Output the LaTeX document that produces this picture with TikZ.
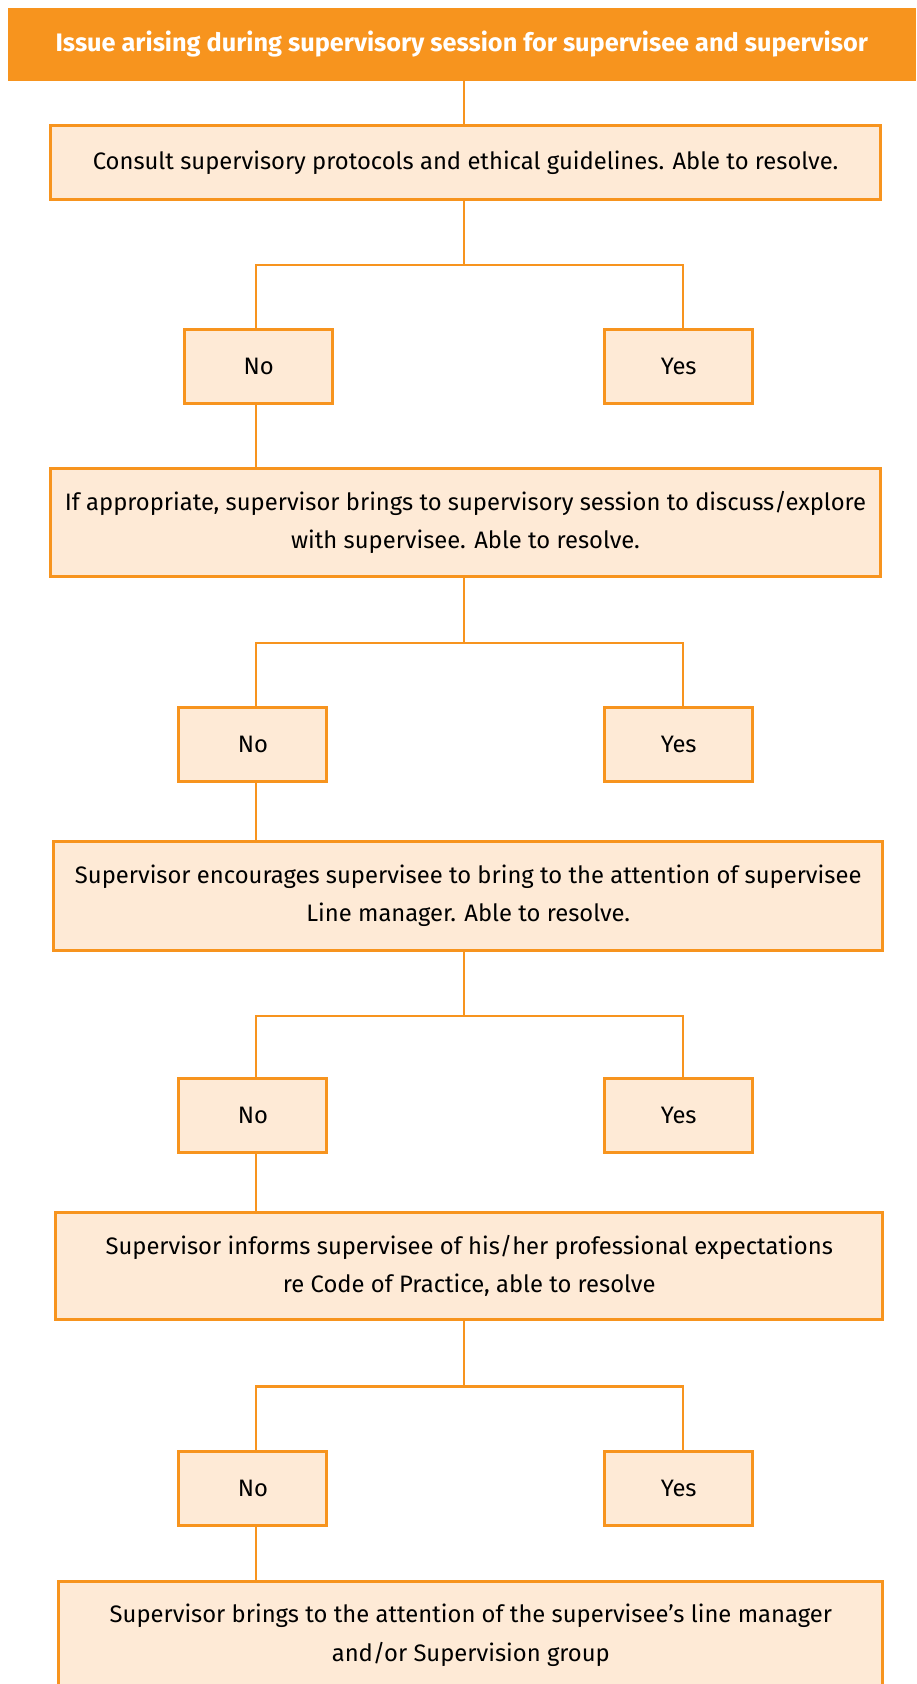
\documentclass[tikz,border=0pt]{standalone}
\usepackage{fontspec}
\setmainfont{Fira Sans}
\usetikzlibrary{positioning}

\definecolor{flowOrange}{HTML}{F7941E}
\definecolor{flowPeach}{HTML}{FEEAD6}

\tikzset{
  stepbox/.style={draw=flowOrange, line width=3pt, fill=flowPeach, align=center,
    inner sep=0pt, font=\fontsize{23.8}{38.5}\selectfont},
  answer/.style={stepbox, minimum width=148pt, minimum height=74pt},
  link/.style={draw=flowOrange, line width=2.2pt}
}

\begin{document}
\begin{tikzpicture}[x=1pt, y=-1pt]
    \useasboundingbox (0,0) rectangle (916,1684);

    % heading bar
    \node[fill=flowOrange, text=white, inner sep=0pt, minimum width=908.5pt, minimum height=73pt,
      font=\fontsize{25.3}{30}\selectfont\bfseries] (hdr) at (461.75,44)
      {Issue arising during supervisory session for supervisee and supervisor};
    \coordinate (trunk) at (464,0);

    % main steps
    \node[stepbox, minimum width=830pt, minimum height=74pt] (b1) at (465.5,162.6)
      {Consult supervisory protocols and ethical guidelines. Able to resolve.};
    \node[stepbox, minimum width=830pt, minimum height=108pt] (b2) at (465.5,522.5)
      {If appropriate, supervisor brings to supervisory session to discuss/explore\\with supervisee. Able to resolve.};
    \node[stepbox, minimum width=829pt, minimum height=109pt] (b3) at (468.2,895.6)
      {Supervisor encourages supervisee to bring to the attention of supervisee\\Line manager. Able to resolve.};
    \node[stepbox, minimum width=827pt, minimum height=107pt] (b4) at (469.2,1266.1)
      {Supervisor informs supervisee of his/her professional expectations\\re Code of Practice, able to resolve};
    \node[stepbox, minimum width=824pt, minimum height=108pt] (b5) at (470.8,1635)
      {Supervisor brings to the attention of the supervisee’s line manager\\and/or Supervision group};

    % answers
    \node[answer] (no1) at (258.8,366.7) {No};
    \node[answer] (yes1) at (678.7,366.7) {Yes};
    \node[answer] (no2) at (252.9,744.2) {No};
    \node[answer] (yes2) at (678.7,744.2) {Yes};
    \node[answer] (no3) at (252.9,1115.2) {No};
    \node[answer] (yes3) at (678.7,1115.2) {Yes};
    \node[answer] (no4) at (252.9,1488.4) {No};
    \node[answer] (yes4) at (678.7,1488.4) {Yes};

    % branch points
    \coordinate (j1) at (464,265);
    \coordinate (j2) at (464,643.3);
    \coordinate (j3) at (464,1015.9);
    \coordinate (j4) at (464,1386.4);

    % connectors
    \draw[link] (trunk |- hdr.south) -- (trunk |- b1.north);
    \draw[link] (trunk |- b1.south) -- (j1);
    \draw[link] ([xshift=-3pt]no1.north) |- (j1) -| ([xshift=4pt]yes1.north);
    \draw[link] ([xshift=-3pt]no1.south) -- ([xshift=-3pt]no1.south |- b2.north);

    \draw[link] (trunk |- b2.south) -- (j2);
    \draw[link] ([xshift=3pt]no2.north) |- (j2) -| ([xshift=4pt]yes2.north);
    \draw[link] ([xshift=3pt]no2.south) -- ([xshift=3pt]no2.south |- b3.north);

    \draw[link] (trunk |- b3.south) -- (j3);
    \draw[link] ([xshift=3pt]no3.north) |- (j3) -| ([xshift=4pt]yes3.north);
    \draw[link] ([xshift=3pt]no3.south) -- ([xshift=3pt]no3.south |- b4.north);

    \draw[link] (trunk |- b4.south) -- (j4);
    \draw[link] ([xshift=3pt]no4.north) |- (j4) -| ([xshift=4pt]yes4.north);
    \draw[link] ([xshift=3pt]no4.south) -- ([xshift=3pt]no4.south |- b5.north);
\end{tikzpicture}
\end{document}
